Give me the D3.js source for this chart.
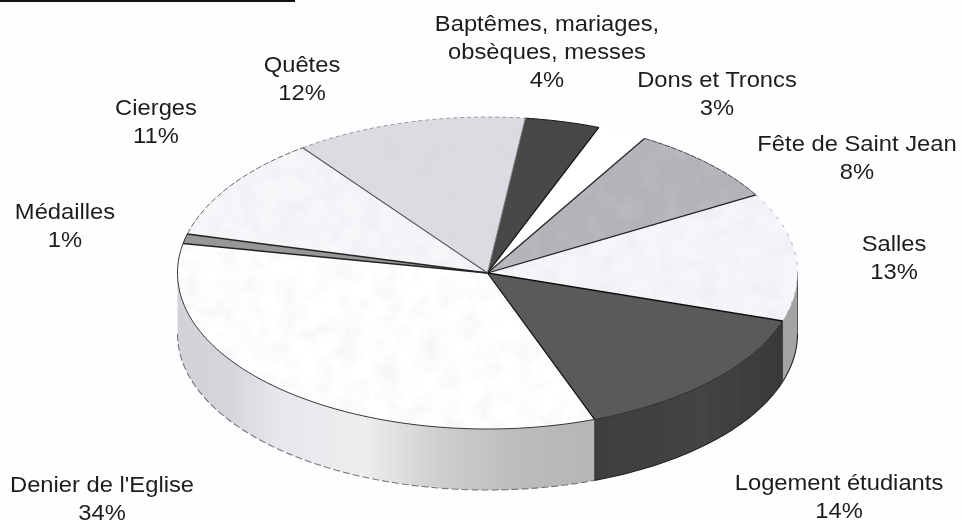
<!DOCTYPE html>
<html>
<head>
<meta charset="utf-8">
<script src="https://cdn.jsdelivr.net/npm/d3@7"></script>
<style>
  html, body { margin: 0; padding: 0; background: #fdfeff; }
  svg { display: block; }
  text { font-family: "Liberation Sans", Arial, sans-serif; fill: #1e1e1e; }
</style>
</head>
<body>
<div id="chart"></div>
<script>
// values, labels are the rounded ones
const categories = ["Baptêmes, mariages, obsèques, messes", "Dons et Troncs", "Fête de Saint Jean", "Salles",
    "Logement étudiants", "Denier de l'Eglise", "Médailles", "Cierges", "Quêtes"];
const shares = [3.9, 2.6, 8.2, 13.3, 14.4, 33.6, 1.0, 10.8, 12.1];
const percentLabels = ["4%", "3%", "8%", "13%", "14%", "34%", "1%", "11%", "12%"];
const topColors = ["#484848", "#ffffff", "#b2b3b8", "#f6f6fa", "#5a5a5a", "#ffffff", "#979797", "#f7f7fa", "#dcdde2"];
const sideColors = ["#333", "#fff", "#888", "#a4a4a4", "url(#sideDark)", "url(#sideLight)", "#777", "#ccc", "#aaa"];
// rim of each slice and the radial edge where each slice starts
const rimColors = ["#1a1a1a", "none", "#444", "#aaa", "#2a2a2a", "#333", "#222", "#666", "#999"];
const rimDash = [null, null, "6 1", "3 7", null, null, null, "6 2", "4 3"];
const edgeColors = ["#777", "#111", "#222", "#222", "#111", "#111", "#222", "#222", "#555"];
const edgeWidths = [1, 1.2, 1.2, 1.2, 1.4, 1.2, 1.5, 1.5, 1.1];

const labelLines = [
    ["Baptêmes, mariages,", "obsèques, messes"], ["Dons et Troncs"], ["Fête de Saint Jean"], ["Salles"],
    ["Logement étudiants"], ["Denier de l'Eglise"], ["Médailles"], ["Cierges"], ["Quêtes"]
];
const labelX = [547, 717, 857, 894, 839, 102, 65, 156, 302];
const labelY = [31, 87, 151, 251, 490, 492, 219, 115, 72];

const width = 961, height = 521;
const lineHeight = 28;
const depth = 61;
const textStretch = 1.08;

const svg = d3.select("#chart")
    .append("svg")
    .attr("width", width)
    .attr("height", height)
    .attr("viewBox", [0, 0, width, height]);

const defs = svg.append("defs");

function addGradient(id, stops) {
    const g = defs.append("linearGradient")
        .attr("id", id)
        .attr("gradientUnits", "userSpaceOnUse")
        .attr("x1", 177).attr("x2", 798).attr("y1", 0).attr("y2", 0);
    stops.forEach(s => g.append("stop").attr("offset", s[0]).attr("stop-color", s[1]));
}
addGradient("sideLight", [[0, "#d2d3d8"], [0.08, "#d3d5db"], [0.16, "#e6e7ec"], [0.3, "#eeeeef"], [0.42, "#cfcfd0"], [0.55, "#bcbcbe"], [0.67, "#b6b6b8"]]);
addGradient("sideDark", [[0.67, "#3e3e3e"], [0.85, "#444"], [0.98, "#383838"]]);

// scan mottling, faint and only on the light faces
const mottle = defs.append("filter").attr("id", "mottle")
    .attr("x", 0).attr("y", 0).attr("width", 1).attr("height", 1);
mottle.append("feTurbulence").attr("type", "fractalNoise")
    .attr("baseFrequency", 0.05).attr("numOctaves", 3).attr("seed", 4).attr("result", "n");
mottle.append("feColorMatrix").attr("in", "n").attr("type", "matrix")
    .attr("values", "0 0 0 0 0.62  0 0 0 0 0.64  0 0 0 0 0.72  0.45 0 0 0 -0.17")
    .attr("result", "spots");
mottle.append("feComposite").attr("in", "spots").attr("in2", "SourceAlpha").attr("operator", "in").attr("result", "clipped");
const merge = mottle.append("feMerge");
merge.append("feMergeNode").attr("in", "SourceGraphic");
merge.append("feMergeNode").attr("in", "clipped");

defs.append("filter").attr("id", "soft")
    .append("feGaussianBlur").attr("stdDeviation", 0.35);

// unit circle -> page
const x = d3.scaleLinear().domain([-1, 1]).range([177.5, 797.5]);
const y = d3.scaleLinear().domain([-1, 1]).range([117, 429]);

const pie = d3.pie()
    .value(d => d)
    .sort(null)
    .startAngle(7 * Math.PI / 180)
    .endAngle((7 + 360) * Math.PI / 180);

const arcs = pie(shares);

const px = a => x(Math.sin(a));
const py = a => y(-Math.cos(a));

function samples(a0, a1) {
    const n = Math.max(2, Math.ceil((a1 - a0) * 60));
    return d3.range(n + 1).map(i => a0 + (a1 - a0) * i / n);
}

const line = d3.line().x(d => d[0]).y(d => d[1]);

// side walls first, only the part facing us (90deg to 270deg)
const sides = svg.append("g").attr("filter", "url(#soft)");
arcs.forEach((d, i) => {
    const a0 = Math.max(d.startAngle, Math.PI / 2), a1 = Math.min(d.endAngle, 3 * Math.PI / 2);
    if (a1 <= a0) return;
    const upper = samples(a0, a1).map(a => [px(a), py(a)]);
    const lower = samples(a0, a1).reverse().map(a => [px(a), py(a) + depth]);
    sides.append("path")
        .attr("d", line(upper.concat(lower)) + "Z")
        .attr("fill", sideColors[i]);
    // bottom outline of the wall
    sides.append("path")
        .attr("d", line(lower))
        .attr("fill", "none")
        .attr("stroke", i === 5 ? "#777" : "#222")
        .attr("stroke-width", 1.1)
        .attr("stroke-dasharray", i === 5 ? "7 3" : null);
    // vertical edge where the wall changes colour
    sides.append("path")
        .attr("d", line([upper[0], [upper[0][0], upper[0][1] + depth]]))
        .attr("stroke", "#333")
        .attr("stroke-width", 0.8);
});

// top faces
const tops = svg.append("g");
arcs.forEach((d, i) => {
    const pts = [[x(0), y(0)]].concat(samples(d.startAngle, d.endAngle).map(a => [px(a), py(a)]));
    tops.append("path")
        .attr("d", line(pts) + "Z")
        .attr("fill", topColors[i])
        .attr("filter", d3.hsl(topColors[i]).l > 0.6 && i !== 1 ? "url(#mottle)" : null);
});

// rims and radial edges over the faces
const edges = svg.append("g").attr("fill", "none").attr("filter", "url(#soft)");
arcs.forEach((d, i) => {
    if (rimColors[i] !== "none") {
        edges.append("path")
            .attr("d", line(samples(d.startAngle, d.endAngle).map(a => [px(a), py(a)])))
            .attr("stroke", rimColors[i])
            .attr("stroke-width", 1)
            .attr("stroke-dasharray", rimDash[i]);
    }
    edges.append("path")
        .attr("d", line([[x(0), y(0)], [px(d.startAngle), py(d.startAngle)]]))
        .attr("stroke", edgeColors[i])
        .attr("stroke-width", edgeWidths[i]);
});

// the line across the top of the scan
svg.append("line")
    .attr("x1", 0).attr("x2", 295)
    .attr("y1", 1).attr("y2", 1)
    .attr("stroke", "#111")
    .attr("stroke-width", 2);

// labels
const labels = svg.append("g")
    .attr("font-size", 22)
    .attr("text-anchor", "middle")
    .attr("filter", "url(#soft)");
categories.forEach((c, i) => {
    const lines = labelLines[i].concat([percentLabels[i]]);
    lines.forEach((t, j) => {
        labels.append("text")
            .attr("transform", `translate(${labelX[i]},${labelY[i] + j * lineHeight}) scale(${textStretch},1)`)
            .text(t);
    });
});
</script>
</body>
</html>
